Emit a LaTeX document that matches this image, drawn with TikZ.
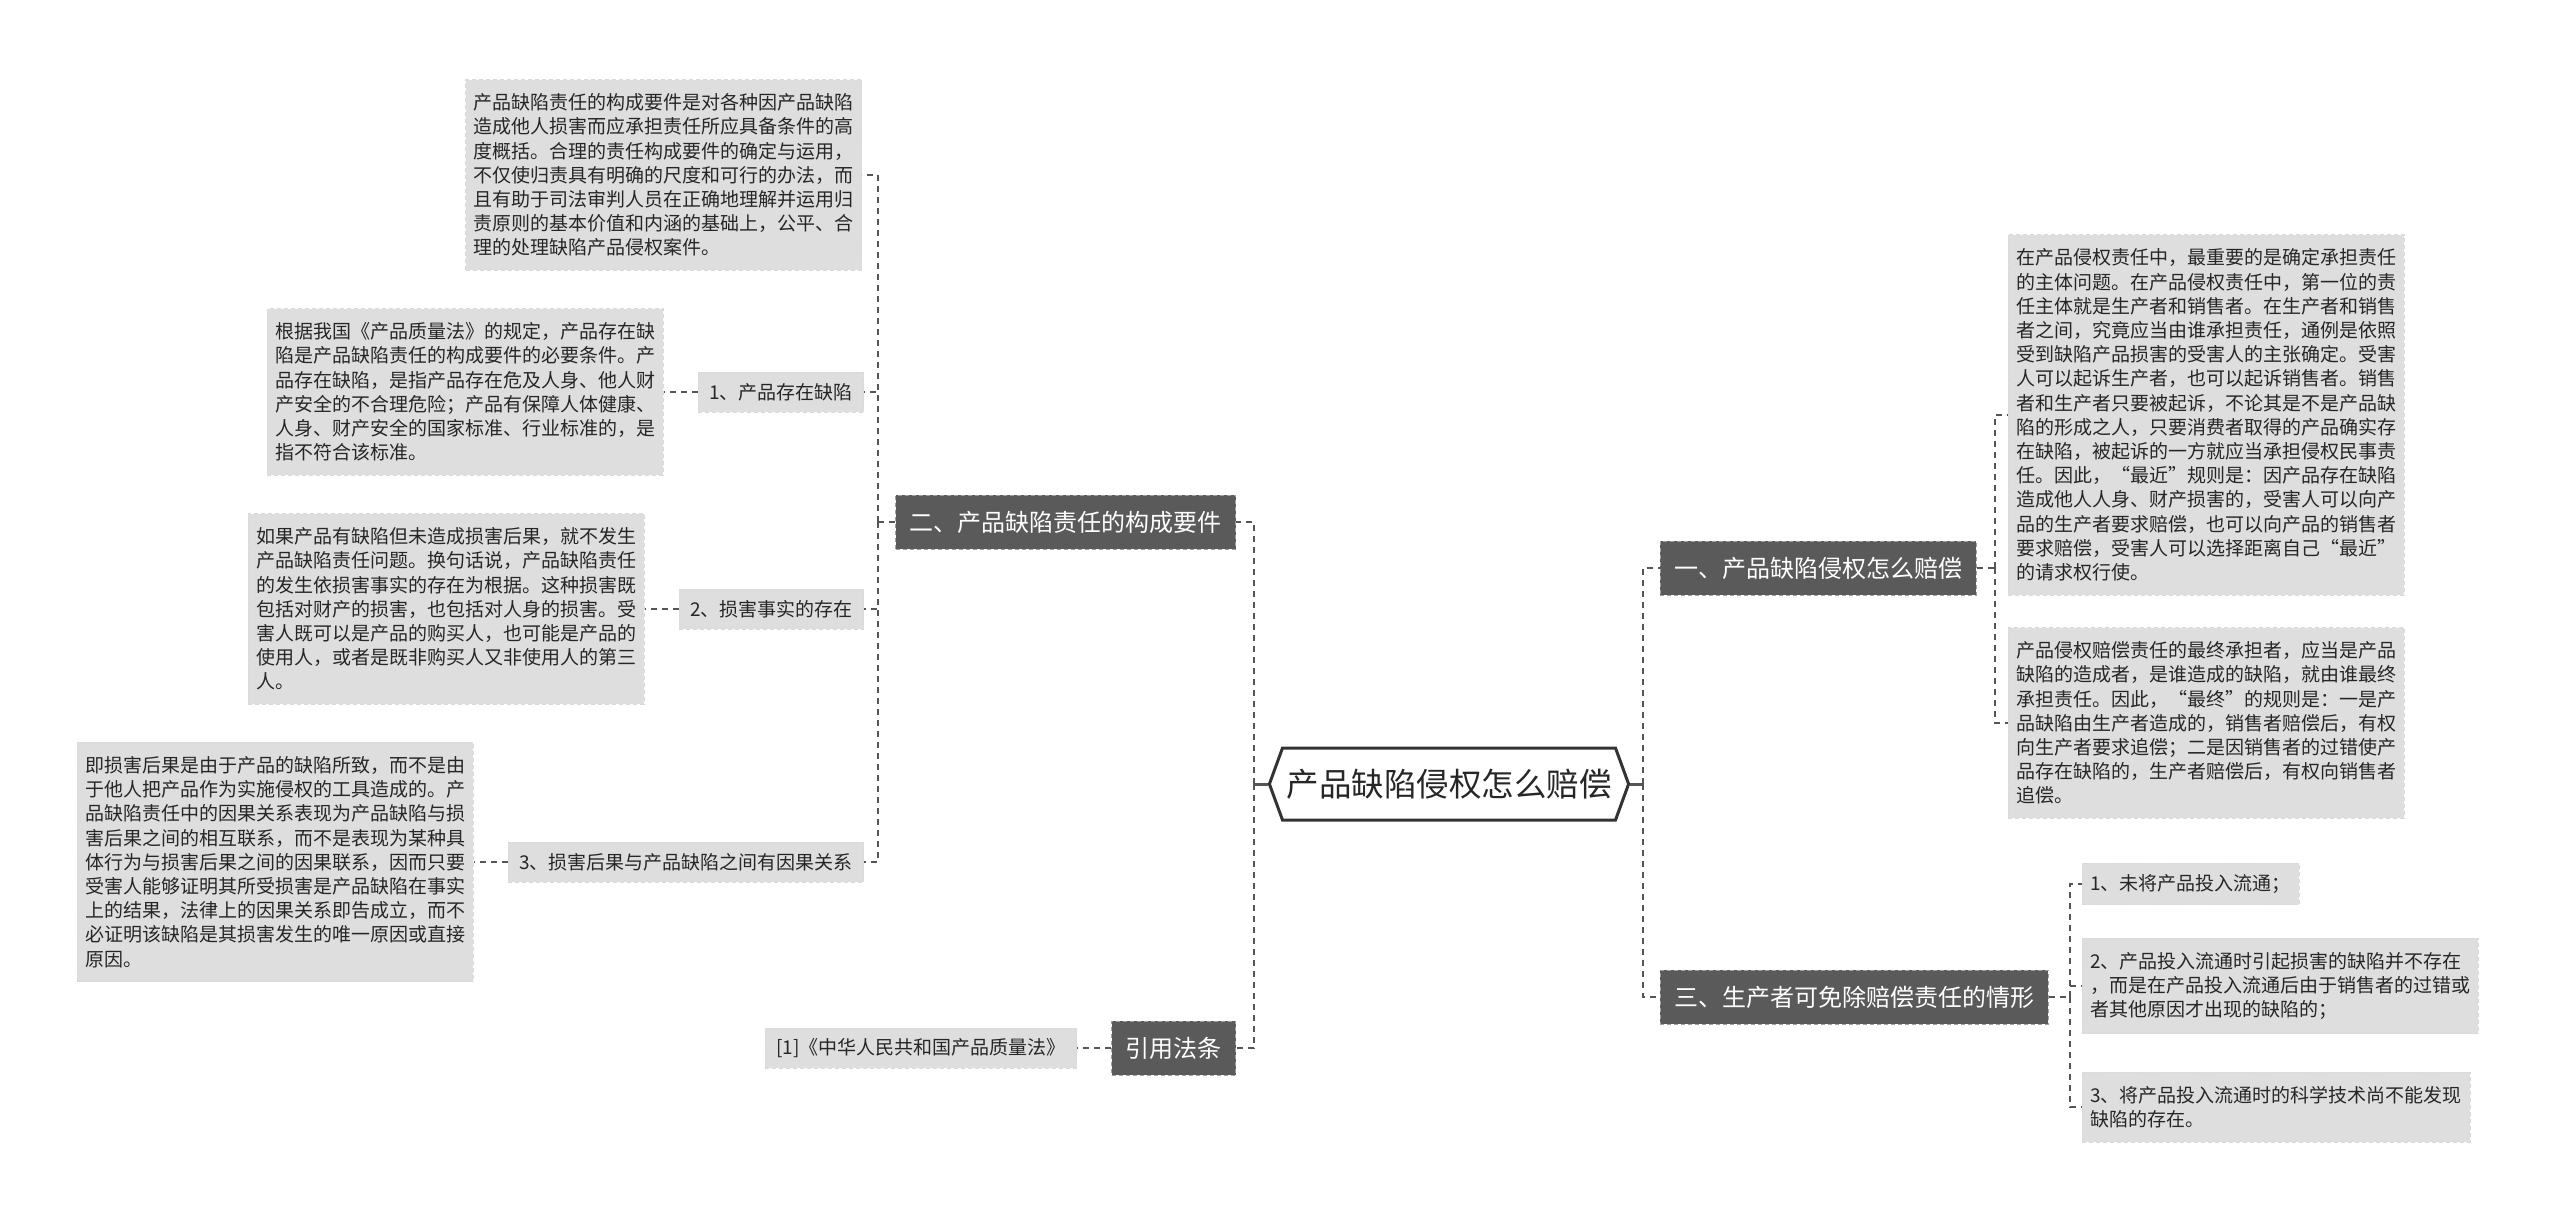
\documentclass[tikz,border=0pt]{standalone}
\usepackage{fontspec}
\setmainfont{Noto Sans CJK SC}
\usepackage{tikz}
\usetikzlibrary{positioning, shapes.symbols, calc}
\definecolor{topicgray}{HTML}{5A5A5A}
\definecolor{leafgray}{HTML}{DEDEDE}
\definecolor{linkgray}{HTML}{555555}
\tikzset{
  % --- central topic (hexagon) ---
  roottopic/.style={draw=black!80, line width=1.5pt, fill=white, signal,
    signal to=east and west, signal pointer angle=140,
    font=\fontsize{16.25}{19}\selectfont, text=black!85,
    minimum width=179pt, minimum height=36pt, inner xsep=2pt},
  rootlink/.style={draw=linkgray, line width=1.5pt},
  % --- dark branch boxes ---
  topic/.style={draw=gray!75, dash pattern=on 2pt off 1.5pt, fill=topicgray,
    text=white, font=\fontsize{12}{14}\selectfont,
    inner xsep=7pt, minimum height=27pt},
  % --- light leaf boxes ---
  leaf/.style={draw=gray!30, dash pattern=on 2pt off 1.5pt, fill=leafgray,
    text=black!85, font=\fontsize{9.5}{12.1}\selectfont, align=left,
    inner xsep=4pt, inner ysep=7pt},
  labelbox/.style={leaf, inner xsep=5.5pt, inner ysep=4pt, minimum height=20pt},
  % --- dashed connectors ---
  link/.style={draw=linkgray, line width=0.75pt, dash pattern=on 3pt off 2.5pt},
}

\begin{document}
\begin{tikzpicture}[x=0.5pt, y=-0.5pt]
    \useasboundingbox (0,0) rectangle (2560,1225);

    % ---- Central topic ----
    \node[roottopic] (root) at (1449,784) {产品缺陷侵权怎么赔偿};
    \coordinate (lsp) at (1254,784);
    \coordinate (rsp) at (1643,784);

    % ---- Left branches ----
    \node[topic, anchor=east] (b2) at (1236,522) {二、产品缺陷责任的构成要件};
    \node[topic, anchor=east] (ref) at (1236,1048) {引用法条};
    \node[labelbox, left=17pt of ref, minimum width=155pt] (law) {[1]《中华人民共和国产品质量法》};

    % ---- Children of b2 ----
    \coordinate (sp2) at (878,522);
    \node[leaf, anchor=east] (t20) at (862,175) {
      产品缺陷责任的构成要件是对各种因产品缺陷\\
      造成他人损害而应承担责任所应具备条件的高\\
      度概括。合理的责任构成要件的确定与运用，\\
      不仅使归责具有明确的尺度和可行的办法，而\\
      且有助于司法审判人员在正确地理解并运用归\\
      责原则的基本价值和内涵的基础上，公平、合\\
      理的处理缺陷产品侵权案件。
    };
    \node[labelbox, anchor=east] (l21) at (864,392) {1、产品存在缺陷};
    \node[leaf, left=17pt of l21] (t21) {
      根据我国《产品质量法》的规定，产品存在缺\\
      陷是产品缺陷责任的构成要件的必要条件。产\\
      品存在缺陷，是指产品存在危及人身、他人财\\
      产安全的不合理危险；产品有保障人体健康、\\
      人身、财产安全的国家标准、行业标准的，是\\
      指不符合该标准。
    };
    \node[labelbox, anchor=east] (l22) at (864,609) {2、损害事实的存在};
    \node[leaf, left=17pt of l22] (t22) {
      如果产品有缺陷但未造成损害后果，就不发生\\
      产品缺陷责任问题。换句话说，产品缺陷责任\\
      的发生依损害事实的存在为根据。这种损害既\\
      包括对财产的损害，也包括对人身的损害。受\\
      害人既可以是产品的购买人，也可能是产品的\\
      使用人，或者是既非购买人又非使用人的第三\\
      人。
    };
    \node[labelbox, anchor=east] (l23) at (864,862) {3、损害后果与产品缺陷之间有因果关系};
    \node[leaf, left=17pt of l23] (t23) {
      即损害后果是由于产品的缺陷所致，而不是由\\
      于他人把产品作为实施侵权的工具造成的。产\\
      品缺陷责任中的因果关系表现为产品缺陷与损\\
      害后果之间的相互联系，而不是表现为某种具\\
      体行为与损害后果之间的因果联系，因而只要\\
      受害人能够证明其所受损害是产品缺陷在事实\\
      上的结果，法律上的因果关系即告成立，而不\\
      必证明该缺陷是其损害发生的唯一原因或直接\\
      原因。
    };

    % ---- Right branches ----
    \node[topic, anchor=west] (b1) at (1660,568) {一、产品缺陷侵权怎么赔偿};
    \node[topic, anchor=west] (b3) at (1660,997) {三、生产者可免除赔偿责任的情形};

    % ---- Children of b1 ----
    \coordinate (sp1) at (1995,568);
    \node[leaf, anchor=west] (t11) at (2008,415) {
      在产品侵权责任中，最重要的是确定承担责任\\
      的主体问题。在产品侵权责任中，第一位的责\\
      任主体就是生产者和销售者。在生产者和销售\\
      者之间，究竟应当由谁承担责任，通例是依照\\
      受到缺陷产品损害的受害人的主张确定。受害\\
      人可以起诉生产者，也可以起诉销售者。销售\\
      者和生产者只要被起诉，不论其是不是产品缺\\
      陷的形成之人，只要消费者取得的产品确实存\\
      在缺陷，被起诉的一方就应当承担侵权民事责\\
      任。因此，“最近”规则是：因产品存在缺陷\\
      造成他人人身、财产损害的，受害人可以向产\\
      品的生产者要求赔偿，也可以向产品的销售者\\
      要求赔偿，受害人可以选择距离自己“最近”\\
      的请求权行使。
    };
    \node[leaf, anchor=west] (t12) at (2008,723) {
      产品侵权赔偿责任的最终承担者，应当是产品\\
      缺陷的造成者，是谁造成的缺陷，就由谁最终\\
      承担责任。因此，“最终”的规则是：一是产\\
      品缺陷由生产者造成的，销售者赔偿后，有权\\
      向生产者要求追偿；二是因销售者的过错使产\\
      品存在缺陷的，生产者赔偿后，有权向销售者\\
      追偿。
    };

    % ---- Children of b3 ----
    \coordinate (sp3) at (2070,997);
    \node[leaf, anchor=west, inner ysep=5.5pt] (l31) at (2082,884) {1、未将产品投入流通；};
    \node[leaf, anchor=west] (l32) at (2082,986) {
      2、产品投入流通时引起损害的缺陷并不存在\\
      ，而是在产品投入流通后由于销售者的过错或\\
      者其他原因才出现的缺陷的；
    };
    \node[leaf, anchor=west] (l33) at (2082,1107) {
      3、将产品投入流通时的科学技术尚不能发现\\
      缺陷的存在。
    };

    % ---- Connectors: root to spines ----
    \draw[rootlink] (root.west) -- (lsp);
    \draw[rootlink] (root.east) -- (rsp);
    \draw[link] (lsp) |- (b2.east);
    \draw[link] (lsp) |- (ref.east);
    \draw[link] (rsp) |- (b1.west);
    \draw[link] (rsp) |- (b3.west);

    % ---- Connectors: left side ----
    \draw[link] (ref.west) -- (law.east);
    \draw[link] (b2.west) -- (sp2);
    \foreach \n in {t20,l21,l22,l23}{ \draw[link] (sp2) |- (\n.east); }
    \draw[link] (l21.west) -- (t21.east);
    \draw[link] (l22.west) -- (t22.east);
    \draw[link] (l23.west) -- (t23.east);

    % ---- Connectors: right side ----
    \draw[link] (b1.east) -- (sp1);
    \foreach \n in {t11,t12}{ \draw[link] (sp1) |- (\n.west); }
    \draw[link] (b3.east) -- (sp3);
    \foreach \n in {l31,l32,l33}{ \draw[link] (sp3) |- (\n.west); }
\end{tikzpicture}
\end{document}
